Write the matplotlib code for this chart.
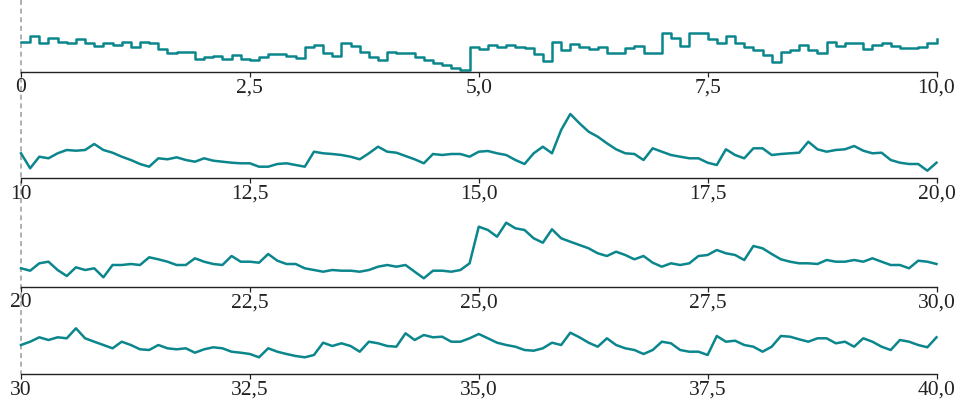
import matplotlib
matplotlib.use("Agg")
import matplotlib.pyplot as plt
from matplotlib.lines import Line2D
import numpy as np

# ---- data (heights, arbitrary units) ----
row1_start = 0
row2_start = 10
row3_start = 20
row4_start = 30
step = 0.1

row1_values = [29.8, 35.5, 28.8, 33.2, 29.8, 28.0, 32.0, 28.0, 25.5, 28.8,
               26.5, 29.8, 24.8, 29.8, 28.0, 22.0, 18.0, 19.8, 19.8, 12.0,
               14.0, 15.5, 12.0, 16.5, 12.0, 11.5, 14.8, 17.5, 17.5, 15.5,
               13.2, 24.8, 26.5, 18.0, 15.5, 28.0, 25.5, 19.8, 14.8, 11.5,
               19.8, 18.0, 18.0, 14.0, 11.5, 8.2, 6.5, 3.2, 1.5, 24.8,
               22.0, 26.5, 24.8, 26.5, 24.0, 23.0, 17.5, 10.8, 29.8, 21.5,
               27.5, 24.8, 22.0, 24.8, 18.0, 18.8, 23.2, 25.5, 18.8, 18.0,
               38.2, 33.2, 25.5, 38.2, 38.2, 32.2, 28.8, 35.5, 28.8, 24.8,
               21.5, 16.5, 9.8, 19.8, 21.5, 26.5, 21.5, 18.0, 29.8, 25.5,
               28.0, 28.0, 22.0, 26.5, 28.8, 25.5, 23.2, 23.2, 24.8, 28.0,
               32.2]

row2_values = [24.7, 9.7, 21.3, 19.7, 24.7, 28.0, 27.3, 28.0, 34.0, 28.0,
               25.3, 21.3, 18.0, 14.0, 11.3, 19.7, 18.7, 20.7, 18.0, 16.3,
               19.7, 17.3, 16.3, 15.3, 14.7, 14.7, 11.3, 11.3, 14.0, 14.7,
               13.0, 11.3, 26.3, 24.7, 24.0, 23.0, 21.3, 18.7, 24.7, 31.3,
               26.3, 25.3, 22.0, 18.7, 14.7, 24.0, 23.0, 24.0, 24.0, 21.3,
               26.3, 27.0, 24.7, 23.0, 18.0, 14.0, 24.7, 31.3, 24.7, 48.0,
               64.0, 54.7, 46.3, 41.3, 34.7, 28.7, 24.7, 24.0, 18.0, 29.7,
               26.3, 23.0, 21.3, 19.7, 19.7, 15.3, 13.0, 28.7, 23.0, 19.7,
               29.7, 29.7, 23.0, 24.0, 24.7, 25.3, 36.3, 28.7, 26.3, 28.0,
               28.7, 32.0, 27.3, 24.7, 25.3, 18.0, 15.3, 14.0, 14.0, 7.3,
               15.3]

row3_values = [18.4, 16.0, 23.4, 25.0, 16.7, 10.7, 19.4, 16.7, 18.4, 9.4,
               21.7, 21.7, 22.7, 21.7, 29.4, 27.4, 25.0, 21.7, 21.7, 28.4,
               25.0, 22.7, 21.7, 30.7, 25.0, 25.0, 24.0, 32.7, 26.0, 22.7,
               22.7, 18.4, 16.7, 15.0, 16.7, 16.0, 16.0, 15.0, 16.7, 20.0,
               21.7, 20.0, 21.7, 15.0, 8.4, 16.0, 16.0, 15.0, 16.7, 23.4,
               60.0, 56.7, 50.0, 64.0, 58.4, 56.7, 48.4, 44.0, 57.4, 48.4,
               45.0, 41.7, 38.4, 33.4, 30.7, 35.0, 31.7, 27.4, 30.7, 24.0,
               20.0, 23.4, 21.7, 23.4, 30.7, 31.7, 36.7, 33.4, 31.7, 26.7,
               40.7, 38.4, 32.7, 27.4, 25.0, 23.4, 23.4, 22.7, 26.7, 25.0,
               25.0, 26.7, 25.0, 28.4, 25.0, 21.7, 21.7, 18.4, 26.0, 25.0,
               22.7]

row4_values = [29.0, 32.3, 36.7, 34.0, 36.7, 35.7, 45.7, 35.7, 32.3, 29.0,
               25.7, 32.3, 29.0, 24.7, 24.0, 29.0, 25.7, 24.7, 25.7, 21.3,
               24.7, 26.7, 25.7, 22.3, 21.3, 20.0, 16.7, 25.7, 22.3, 20.0,
               18.0, 16.7, 19.0, 31.3, 28.0, 30.7, 28.0, 22.3, 32.3, 30.7,
               28.0, 27.3, 40.7, 34.0, 39.0, 36.7, 37.3, 32.3, 32.3, 35.7,
               40.0, 35.7, 31.3, 29.0, 27.3, 24.0, 23.3, 25.7, 31.3, 29.0,
               41.3, 36.7, 31.3, 27.3, 35.7, 29.0, 25.7, 24.0, 20.0, 24.0,
               32.3, 30.7, 24.0, 22.3, 22.3, 19.0, 38.0, 32.3, 33.3, 29.0,
               27.3, 22.3, 27.3, 38.0, 37.3, 34.7, 32.3, 35.7, 35.7, 30.7,
               32.3, 27.3, 35.7, 32.3, 27.3, 24.0, 34.0, 32.3, 29.0, 26.7,
               36.7]

tick_offsets = [0, 2.5, 5, 7.5, 10]

rows = [
    (row1_start, row1_values, "steps-post"),
    (row2_start, row2_values, "default"),
    (row3_start, row3_values, "default"),
    (row4_start, row4_values, "default"),
]

# ---- style ----
LINE_COLOR = "#0b868c"
W, H = 957, 400
axis_y_px = [71.5, 178.0, 286.7, 374.0]
left_px, right_px = 21.0, 936.5
ax_h_px = 70.0

plt.rcParams["font.family"] = ["Liberation Serif", "DejaVu Serif"]
plt.rcParams["lines.scale_dashes"] = False

fig = plt.figure(figsize=(W / 100, H / 100), dpi=100)
fig.patch.set_facecolor("white")


def fmt(v, first):
    if first:
        return f"{v:g}"
    return f"{v:.1f}".replace(".", ",")


for (start, vals, ds), ay in zip(rows, axis_y_px):
    ax = fig.add_axes([left_px / W, 1 - ay / H, (right_px - left_px) / W, ax_h_px / H])
    ax.patch.set_visible(False)
    x = start + np.arange(len(vals)) * step
    ax.plot(x, vals, color=LINE_COLOR, lw=1.8, drawstyle=ds,
            solid_joinstyle="round", clip_on=False)
    ax.set_xlim(start, start + 10)
    ax.set_ylim(0, ax_h_px)
    for s in ("top", "right", "left"):
        ax.spines[s].set_visible(False)
    ax.spines["bottom"].set_linewidth(1.0)
    ax.spines["bottom"].set_color("#222222")
    ticks = [start + o for o in tick_offsets]
    ax.set_xticks(ticks)
    ax.set_xticklabels([fmt(t, i == 0) for i, t in enumerate(ticks)])
    ax.tick_params(axis="x", direction="out", length=3.6, width=0.9,
                   color="#222222", pad=1.2, labelsize=15.5, labelcolor="#222222")
    ax.set_yticks([])

# dashed vertical guide on the left
fig.add_artist(Line2D([left_px / W, left_px / W], [1.0, 1 - 374.0 / H],
                      transform=fig.transFigure, color="#aaaaaa", lw=1.3,
                      linestyle=(0, (3.6, 2.6)), zorder=-1))

fig.savefig("out.png", dpi=100, facecolor="white")
